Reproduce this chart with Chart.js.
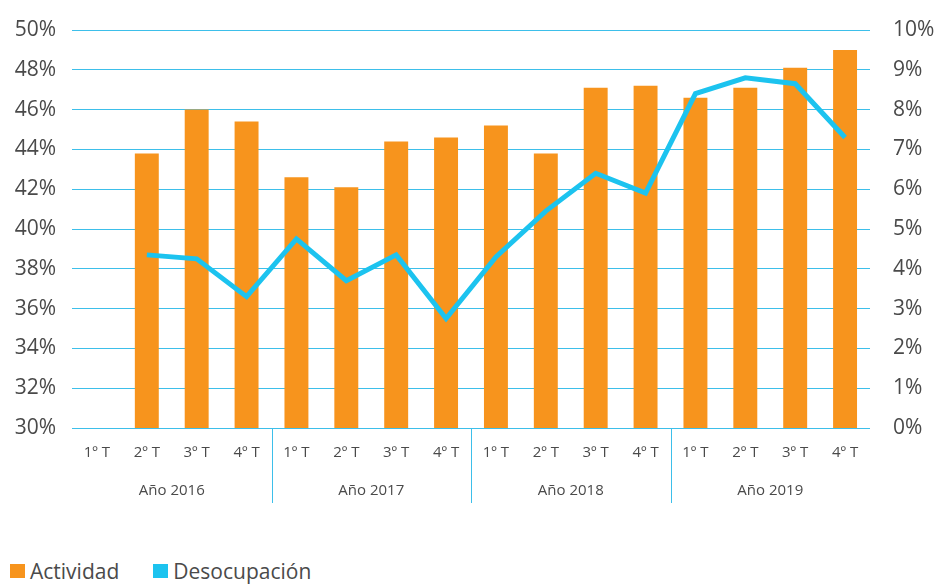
<!DOCTYPE html>
<html>
<head>
<meta charset="utf-8">
<script src="https://cdn.jsdelivr.net/npm/chart.js@4/dist/chart.umd.min.js"></script>
<style>
  html, body { margin: 0; padding: 0; background: #fff; }
  #wrap { position: relative; width: 938px; height: 584px; overflow: hidden; }
  #chartBox { position: absolute; left: 0; top: 0; width: 938px; height: 520px; }
  #legend { position: absolute; left: 10px; top: 558px; font-family: "Open Sans", sans-serif; font-size: 21px; color: #4a4a4a; display: flex; align-items: center; white-space: nowrap; line-height: 26px; }
  .item { display: flex; align-items: center; margin-right: 34px; }
  .sw { width: 15px; height: 14px; margin-right: 5px; }
</style>
</head>
<body>
<div id="wrap">
  <div id="chartBox"><canvas id="c"></canvas></div>
  <div id="legend"></div>
</div>
<script>
const quarters = ['1º T','2º T','3º T','4º T','1º T','2º T','3º T','4º T','1º T','2º T','3º T','4º T','1º T','2º T','3º T','4º T'];
const years = ['Año 2016','Año 2017','Año 2018','Año 2019'];
const actividad = [null, 43.8, 46.0, 45.4, 42.6, 42.1, 44.4, 44.6, 45.2, 43.8, 47.1, 47.2, 46.6, 47.1, 48.1, 49.0];
const desocupacion = [null, 4.35, 4.25, 3.3, 4.75, 3.7, 4.35, 2.75, 4.3, 5.45, 6.4, 5.9, 8.4, 8.8, 8.65, 7.3];
const leftTicks = { min: 30, max: 50, step: 2 };
const rightTicks = { min: 0, max: 10, step: 1 };

const ORANGE = '#F7941D';
const BLUE = '#1CC3EF';
const GRID = '#3DBFEA';
const TEXT = '#4a4a4a';
const FONT = '"Open Sans", sans-serif';

const groupPlugin = {
  id: 'groups',
  afterDraw(chart) {
    const ctx = chart.ctx;
    const x = chart.scales.x;
    const area = chart.chartArea;
    ctx.save();
    ctx.strokeStyle = GRID;
    ctx.lineWidth = 1;
    for (let g = 1; g < years.length; g++) {
      const px = Math.round((x.getPixelForValue(g * 4 - 1) + x.getPixelForValue(g * 4)) / 2) + 0.5;
      ctx.beginPath();
      ctx.moveTo(px, area.bottom);
      ctx.lineTo(px, area.bottom + 75);
      ctx.stroke();
    }
    ctx.fillStyle = TEXT;
    ctx.font = '15px ' + FONT;
    ctx.textAlign = 'center';
    ctx.textBaseline = 'middle';
    years.forEach((y, g) => {
      const cx = (x.getPixelForValue(g * 4) + x.getPixelForValue(g * 4 + 3)) / 2;
      ctx.fillText(y, cx, area.bottom + 63);
    });
    ctx.restore();
  }
};

const chart = new Chart(document.getElementById('c'), {
  data: {
    labels: quarters,
    datasets: [
      {
        type: 'line',
        label: 'Desocupación',
        data: desocupacion,
        yAxisID: 'y2',
        borderColor: BLUE,
        backgroundColor: BLUE,
        borderWidth: 5,
        pointRadius: 0,
        tension: 0,
        borderJoinStyle: 'miter',
        order: 0
      },
      {
        type: 'bar',
        label: 'Actividad',
        data: actividad,
        yAxisID: 'y',
        backgroundColor: ORANGE,
        barPercentage: 0.48,
        categoryPercentage: 1,
        order: 1
      }
    ]
  },
  options: {
    responsive: true,
    maintainAspectRatio: false,
    animation: false,
    layout: { padding: { top: 30, left: 0, right: 0, bottom: 0 } },
    plugins: { legend: { display: false }, tooltip: { enabled: false } },
    scales: {
      x: {
        grid: { display: false, drawTicks: false },
        border: { display: false },
        ticks: { color: TEXT, font: { family: FONT, size: 15 }, padding: 16, maxRotation: 0, autoSkip: false },
        afterFit(s) { s.height = 92; s.paddingLeft = 0; s.paddingRight = 0; }
      },
      y: {
        position: 'left',
        min: leftTicks.min, max: leftTicks.max,
        grid: { color: GRID, lineWidth: 1, drawTicks: false },
        border: { display: false },
        ticks: { stepSize: leftTicks.step, color: TEXT, font: { family: FONT, size: 21 }, padding: 16, callback: v => v + '%' },
        afterFit(s) { s.width = 72; s.paddingTop = 0; s.paddingBottom = 0; }
      },
      y2: {
        position: 'right',
        min: rightTicks.min, max: rightTicks.max,
        grid: { display: false, drawTicks: false },
        border: { display: false },
        ticks: { stepSize: rightTicks.step, color: TEXT, font: { family: FONT, size: 21 }, padding: 23, callback: v => v + '%' },
        afterFit(s) { s.width = 68; s.paddingTop = 0; s.paddingBottom = 0; }
      }
    }
  },
  plugins: [groupPlugin]
});

const legend = document.getElementById('legend');
[chart.data.datasets[1], chart.data.datasets[0]].forEach(ds => {
  const item = document.createElement('div');
  item.className = 'item';
  const sw = document.createElement('span');
  sw.className = 'sw';
  sw.style.background = ds.backgroundColor;
  const t = document.createElement('span');
  t.textContent = ds.label;
  item.appendChild(sw);
  item.appendChild(t);
  legend.appendChild(item);
});
</script>
</body>
</html>
